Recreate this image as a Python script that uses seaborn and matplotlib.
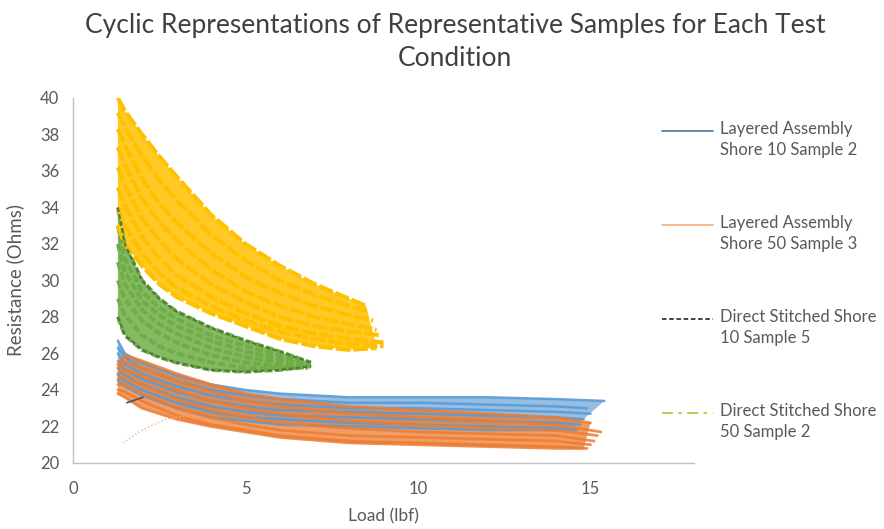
import pandas as pd
import seaborn as sns
import matplotlib.pyplot as plt
from matplotlib.lines import Line2D

# Layered Assembly Shore 10 Sample 2 (blue)
la10_load = [1.3, 1.5, 2.0, 3.0, 4.0, 5.0, 6.0, 8.0, 10.0, 12.0, 14.0]
la10_cycles = [
    [26.7, 26.0, 25.5, 24.8, 24.3, 24.0, 23.8, 23.6, 23.6, 23.6, 23.5],
    [26.3, 25.8, 25.2, 24.5, 24.0, 23.7, 23.5, 23.3, 23.3, 23.2, 23.1],
    [26.0, 25.4, 24.9, 24.2, 23.7, 23.4, 23.2, 23.0, 23.0, 22.9, 22.8],
    [25.6, 25.1, 24.6, 23.9, 23.4, 23.1, 22.9, 22.8, 22.7, 22.6, 22.5],
    [25.2, 24.8, 24.3, 23.6, 23.1, 22.8, 22.6, 22.5, 22.4, 22.3, 22.2],
    [24.8, 24.5, 24.0, 23.3, 22.8, 22.5, 22.4, 22.2, 22.1, 22.0, 21.9],
    [24.5, 24.2, 23.7, 23.0, 22.5, 22.3, 22.1, 22.0, 21.9, 21.8, 21.8],
]
la10_end_load = [15.4, 14.9, 15.0, 14.8, 14.7, 14.6, 14.5]
la10_end_res = [23.4, 23.0, 22.7, 22.4, 22.1, 21.8, 21.9]
la10_stray_load = [1.56, 2.03]
la10_stray_res = [23.3, 23.6]

# Layered Assembly Shore 50 Sample 3 (orange)
la50_load = [1.3, 1.5, 2.0, 3.0, 4.0, 5.0, 6.0, 8.0, 10.0, 12.0, 14.0]
la50_cycles = [
    [25.4, 25.9, 25.6, 24.9, 24.3, 23.8, 23.5, 23.1, 22.9, 22.7, 22.5],
    [25.2, 25.5, 25.2, 24.5, 23.9, 23.4, 23.1, 22.7, 22.5, 22.3, 22.1],
    [24.9, 25.1, 24.8, 24.0, 23.4, 23.0, 22.7, 22.3, 22.1, 21.9, 21.8],
    [24.6, 24.7, 24.3, 23.5, 22.9, 22.5, 22.2, 21.9, 21.7, 21.6, 21.5],
    [24.3, 24.3, 23.8, 23.0, 22.5, 22.1, 21.8, 21.5, 21.4, 21.3, 21.2],
    [24.0, 23.9, 23.4, 22.6, 22.1, 21.8, 21.5, 21.2, 21.1, 21.0, 20.9],
    [23.8, 23.6, 23.0, 22.4, 22.0, 21.7, 21.4, 21.1, 21.0, 20.9, 20.8],
]
la50_end_load = [15.0, 15.3, 15.2, 15.1, 15.0, 14.9, 14.8]
la50_end_res = [22.2, 21.7, 21.5, 21.2, 21.0, 20.8, 20.8]
la50_stray_load = [1.45, 2.0, 2.7, 3.3]
la50_stray_res = [21.1, 21.8, 22.4, 22.6]

# Direct Stitched Shore 10 Sample 5 (green)
ds10_load = [1.3, 1.5, 2.0, 2.5, 3.0, 4.0, 5.0, 6.0]
ds10_cycles = [
    [34.0, 32.0, 30.0, 29.0, 28.3, 27.4, 26.7, 26.1],
    [33.0, 31.2, 29.4, 28.5, 27.9, 27.0, 26.4, 25.9],
    [32.0, 30.5, 28.9, 28.1, 27.5, 26.7, 26.1, 25.7],
    [31.0, 29.8, 28.4, 27.6, 27.1, 26.3, 25.8, 25.5],
    [30.0, 29.0, 27.8, 27.1, 26.6, 25.9, 25.5, 25.3],
    [29.0, 28.1, 27.0, 26.4, 26.0, 25.5, 25.2, 25.2],
    [28.0, 27.0, 26.2, 25.8, 25.5, 25.1, 25.0, 25.1],
]
ds10_end_load = [6.9, 6.8, 6.9, 6.7, 6.8, 6.6, 6.9]
ds10_end_res = [25.5, 25.4, 25.3, 25.3, 25.2, 25.2, 25.3]

# Direct Stitched Shore 50 Sample 2 (yellow)
ds50_load = [1.3, 1.5, 2.0, 2.5, 3.0, 4.0, 5.0, 6.0, 7.0, 8.0]
ds50_cycles = [
    [40.0, 39.3, 38.0, 36.8, 35.7, 33.6, 32.0, 30.8, 29.8, 29.0],
    [39.2, 38.4, 36.8, 35.5, 34.4, 32.5, 31.1, 30.0, 29.2, 28.6],
    [38.3, 37.4, 35.6, 34.2, 33.2, 31.5, 30.2, 29.3, 28.6, 28.1],
    [37.3, 36.3, 34.5, 33.2, 32.2, 30.6, 29.4, 28.6, 28.0, 27.6],
    [36.2, 35.2, 33.4, 32.2, 31.2, 29.8, 28.8, 28.0, 27.5, 27.2],
    [35.1, 34.1, 32.4, 31.2, 30.3, 29.1, 28.2, 27.5, 27.1, 26.8],
    [34.0, 33.0, 31.5, 30.4, 29.6, 28.6, 27.8, 27.2, 26.8, 26.5],
    [33.0, 32.0, 30.8, 29.8, 29.1, 28.2, 27.5, 26.8, 26.4, 26.2],
]
ds50_end_load = [8.5, 8.6, 8.7, 8.8, 8.9, 9.0, 9.0, 8.8]
ds50_end_res = [28.6, 28.3, 27.8, 27.3, 27.0, 26.6, 26.4, 26.3]

labels = ["Layered Assembly\nShore 10 Sample 2", "Layered Assembly\nShore 50 Sample 3",
          "Direct Stitched Shore\n10 Sample 5", "Direct Stitched Shore\n50 Sample 2"]
colors = ["#5B9BD5", "#ED7D31", "#70AD47", "#FFC000"]


def cycles_frame(load, cycles, end_load, end_res):
    rows = []
    for i, res in enumerate(cycles):
        for x, y in zip(load + [end_load[i]], res + [end_res[i]]):
            rows.append({"cycle": i, "load": x, "res": y})
    return pd.DataFrame(rows)


sns.set_theme(style="white")
plt.rcParams["font.family"] = ["Lato", "DejaVu Sans"]

fig = plt.figure(figsize=(8.84, 5.29), dpi=100)
ax = fig.add_axes([0.0826, 0.1248, 0.7025, 0.69])

series = [
    (la10_load, la10_cycles, la10_end_load, la10_end_res, colors[0], 1.8, "-", 0.9, 0.65),
    (la50_load, la50_cycles, la50_end_load, la50_end_res, colors[1], 2.0, "-", 0.85, 0.75),
    (ds10_load, ds10_cycles, ds10_end_load, ds10_end_res, colors[2], 2.8, (0, (2.0, 0.7)), 1.0, 0.85),
    (ds50_load, ds50_cycles, ds50_end_load, ds50_end_res, colors[3], 3.0, (0, (3.5, 0.7)), 1.0, 0.85),
]

for load, cycles, end_load, end_res, color, lw, ls, alpha, fill_alpha in series:
    # outline of the bundle of cycles: top cycle out, bottom cycle back
    band_x = load + [end_load[0], end_load[-1]] + load[::-1]
    band_y = cycles[0] + [end_res[0], end_res[-1]] + cycles[-1][::-1]
    ax.fill(band_x, band_y, color=color, alpha=fill_alpha, lw=0)
    df = cycles_frame(load, cycles, end_load, end_res)
    sns.lineplot(data=df, x="load", y="res", units="cycle", estimator=None, sort=False,
                 color=color, lw=lw, linestyle=ls, alpha=alpha, ax=ax, legend=False)

# envelope dashes of the green sample
for res, end_x, end_y in [(ds10_cycles[0], ds10_end_load[0], ds10_end_res[0]),
                          (ds10_cycles[-1], ds10_end_load[-1], ds10_end_res[-1])]:
    ax.plot(ds10_load + [end_x], res + [end_y], color="#4F7A3A", lw=1.6,
            linestyle=(0, (2.0, 1.2)))

ax.plot(la10_stray_load, la10_stray_res, color="#44546A", lw=1.2)
ax.plot(la50_stray_load, la50_stray_res, color="#F4B183", lw=1.0, linestyle=":")

ax.set_xlim(0, 18)
ax.set_ylim(20, 40)
ax.set_xticks([0, 5, 10, 15])
ax.set_yticks(range(20, 41, 2))
ax.tick_params(axis="both", length=0, labelsize=12, labelcolor="#595959")
ax.tick_params(axis="y", pad=10)
ax.tick_params(axis="x", pad=13)
for side in ["top", "right"]:
    ax.spines[side].set_visible(False)
for side in ["left", "bottom"]:
    ax.spines[side].set_color("#BFBFBF")
    ax.spines[side].set_linewidth(1.0)

ax.set_xlabel("Load (lbf)", fontsize=12.5, color="#595959")
ax.set_ylabel("Resistance (Ohms)", fontsize=13.5, color="#595959")
ax.xaxis.set_label_coords(0.5, -0.125)
ax.yaxis.set_label_coords(-0.078, 0.5)

fig.text(0.515, 1 - 42 / 529, "Cyclic Representations of Representative Samples for Each Test\nCondition",
         ha="center", va="center", fontsize=19, color="#404040", linespacing=1.4)

# legend drawn at the right, handle aligned with first text line
legend_y = [131, 225, 319, 413]
handle_styles = [("#5A7FA8", "-"), ("#F4B183", "-"), ("#333333", (0, (2.5, 1.5))),
                 ("#C9C23A", (0, (6, 3, 2, 3)))]
for y, label, (hc, hs) in zip(legend_y, labels, handle_styles):
    fy = 1 - y / 529
    fig.add_artist(Line2D([662 / 884, 713 / 884], [fy, fy], transform=fig.transFigure,
                          color=hc, lw=1.3, linestyle=hs))
    fig.text(720 / 884, 1 - (y - 10) / 529, label, ha="left", va="top", fontsize=12,
             color="#595959", linespacing=1.4)

fig.savefig("out.png", dpi=100)
